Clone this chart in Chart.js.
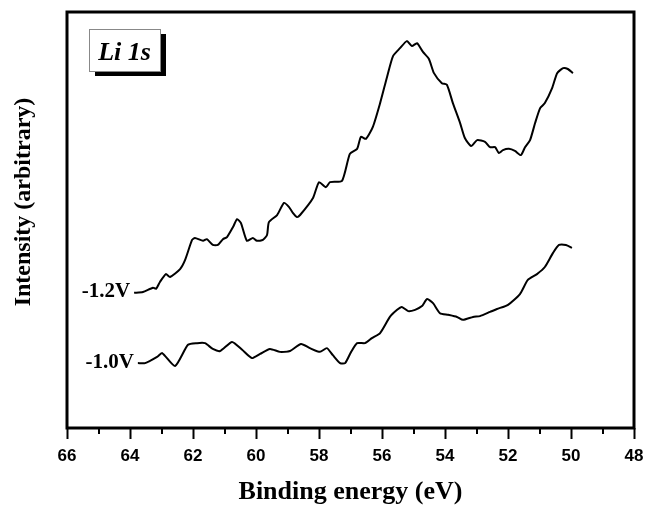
<!DOCTYPE html>
<html>
<head>
<meta charset="utf-8">
<script src="https://cdn.jsdelivr.net/npm/chart.js@4"></script>
<style>
  html, body { margin: 0; padding: 0; background: #fff; }
  #box { width: 645px; height: 505px; }
</style>
</head>
<body>
<div id="box"><canvas id="xps-chart"></canvas></div>
<script>
// data (binding energy in eV, intensity in arbitrary units)
let upper_energy = [63.87, 63.59, 63.27, 63.17, 63.05, 62.86, 62.73, 62.41, 62.25, 62.03, 61.94, 61.68, 61.56, 61.37, 61.21, 61.05, 60.92, 60.73, 60.60, 60.48, 60.29, 60.10, 59.97, 59.78, 59.65, 59.59, 59.33, 59.11, 58.95, 58.83, 58.70, 58.60, 58.19, 58.00, 57.78, 57.65, 57.27, 57.02, 56.79, 56.67, 56.51, 56.29, 56.06, 55.84, 55.65, 55.43, 55.21, 55.05, 54.89, 54.70, 54.51, 54.35, 54.10, 53.94, 53.75, 53.52, 53.37, 53.17, 52.98, 52.73, 52.57, 52.41, 52.29, 52.16, 51.97, 51.78, 51.59, 51.46, 51.30, 51.14, 50.98, 50.83, 50.60, 50.44, 50.25, 50.10, 49.94];
let upper_intensity = [32.5, 32.7, 33.7, 33.5, 35.1, 37.0, 36.3, 38.2, 40.4, 45.2, 45.7, 45.0, 45.4, 44.0, 44.0, 45.4, 45.9, 48.3, 50.2, 49.3, 45.0, 45.7, 45.0, 45.2, 46.4, 49.5, 51.2, 54.1, 53.1, 51.7, 50.7, 51.2, 55.3, 59.1, 57.9, 59.1, 59.4, 65.9, 67.1, 70.0, 69.5, 72.4, 78.1, 84.4, 89.4, 91.3, 93.0, 91.8, 92.5, 90.4, 88.7, 85.3, 82.9, 82.5, 78.1, 73.3, 69.7, 67.8, 69.2, 68.8, 67.5, 67.5, 66.1, 66.8, 67.1, 66.6, 65.6, 67.5, 69.2, 73.3, 76.9, 78.1, 81.7, 85.3, 86.5, 86.3, 85.3];

let lower_energy = [63.75, 63.52, 63.14, 62.98, 62.57, 62.16, 61.87, 61.62, 61.37, 61.14, 60.76, 60.44, 60.13, 59.87, 59.56, 59.24, 58.92, 58.57, 58.29, 57.97, 57.75, 57.56, 57.33, 57.17, 56.98, 56.79, 56.54, 56.32, 56.06, 55.75, 55.52, 55.37, 55.17, 54.95, 54.73, 54.57, 54.38, 54.16, 53.90, 53.62, 53.43, 53.11, 52.89, 52.57, 52.35, 52.00, 51.62, 51.37, 51.08, 50.83, 50.57, 50.38, 50.16, 49.97];
let lower_intensity = [15.6, 15.6, 17.1, 18.0, 14.9, 20.0, 20.4, 20.4, 19.0, 18.5, 20.7, 18.8, 16.8, 17.8, 19.0, 18.3, 18.5, 20.2, 19.2, 18.3, 19.2, 17.5, 15.6, 15.6, 18.3, 20.4, 20.4, 21.6, 22.8, 26.7, 28.4, 29.1, 28.1, 28.4, 29.3, 31.0, 30.0, 27.6, 27.2, 26.7, 26.0, 26.7, 26.9, 27.9, 28.6, 29.6, 32.2, 35.6, 37.0, 38.7, 42.1, 44.0, 44.0, 43.3];

let series_labels = ["-1.2V", "-1.0V"];
let panel_label = "Li 1s";

let chart;

function to_points(xs, ys) {
  return xs.map((x, i) => ({ x: x, y: ys[i] }));
}

// frame, minor ticks and the text annotations
const decorations = {
  id: 'decorations',
  afterDraw(c) {
    const ctx = c.ctx;
    const area = c.chartArea;
    const xs = c.scales.x;
    ctx.save();

    // minor ticks every 1 eV
    ctx.strokeStyle = '#000';
    ctx.lineWidth = 2;
    for (let v = Math.ceil(xs.min); v <= xs.max; v++) {
      if (v % 2 === 0) continue;
      const px = Math.round(xs.getPixelForValue(v));
      ctx.beginPath();
      ctx.moveTo(px, area.bottom);
      ctx.lineTo(px, area.bottom + 6);
      ctx.stroke();
    }

    // plot frame
    ctx.lineWidth = 3;
    ctx.strokeRect(area.left, area.top, area.right - area.left, area.bottom - area.top);

    // series labels next to the start of each curve
    ctx.fillStyle = '#000';
    ctx.font = 'bold 21px "Liberation Serif"';
    ctx.textAlign = 'right';
    ctx.textBaseline = 'middle';
    c.data.datasets.forEach((ds, i) => {
      const first = c.getDatasetMeta(i).data[0];
      ctx.fillText(series_labels[i], first.x - 4, first.y - 1);
    });

    // "Li 1s" box with shadow
    const bx = area.left + 22, by = area.top + 17, bw = 71, bh = 42;
    ctx.fillStyle = '#000';
    ctx.fillRect(bx + 6, by + 5, bw, bh);
    ctx.fillStyle = '#fff';
    ctx.fillRect(bx, by, bw, bh);
    ctx.lineWidth = 1;
    ctx.strokeStyle = '#888';
    ctx.strokeRect(bx + 0.5, by + 0.5, bw, bh);
    ctx.fillStyle = '#000';
    ctx.font = 'italic bold 26px "Liberation Serif"';
    ctx.textAlign = 'center';
    ctx.textBaseline = 'alphabetic';
    ctx.fillText(panel_label, bx + bw / 2, by + 31);

    ctx.restore();
  }
};

function draw_chart() {
  const ctx = document.getElementById('xps-chart').getContext('2d');

  chart = new Chart(ctx, {
    type: 'line',
    data: {
      datasets: [
        {
          label: series_labels[0],
          data: to_points(upper_energy, upper_intensity),
          borderColor: '#000',
          borderWidth: 2,
          pointRadius: 0,
          tension: 0.2,
          fill: false
        },
        {
          label: series_labels[1],
          data: to_points(lower_energy, lower_intensity),
          borderColor: '#000',
          borderWidth: 2,
          pointRadius: 0,
          tension: 0.2,
          fill: false
        }
      ]
    },
    options: {
      responsive: true,
      maintainAspectRatio: false,
      animation: false,
      layout: { padding: { left: 0, right: 11, top: 12, bottom: 0 } },
      plugins: {
        legend: { display: false },
        tooltip: { enabled: false }
      },
      scales: {
        x: {
          type: 'linear',
          min: 48,
          max: 66,
          reverse: true,
          border: { display: false },
          grid: {
            drawOnChartArea: false,
            drawTicks: true,
            tickLength: 11,
            tickColor: '#000',
            tickWidth: 2
          },
          ticks: {
            stepSize: 2,
            color: '#000',
            padding: 7,
            maxRotation: 0,
            font: { family: '"Liberation Sans"', size: 17, weight: 'bold' }
          },
          title: {
            display: true,
            text: 'Binding energy (eV)',
            color: '#000',
            padding: { top: 0, bottom: 0 },
            font: { family: '"Liberation Serif"', size: 26, weight: 'bold', lineHeight: 1 }
          },
          afterFit: (scale) => {
            scale.height = 77;
            scale.paddingLeft = 0;
            scale.paddingRight = 0;
          }
        },
        y: {
          min: 0,
          max: 100,
          border: { display: false },
          grid: { display: false },
          ticks: { display: false },
          title: {
            display: true,
            text: '      Intensity (arbitrary)',
            color: '#000',
            padding: { top: 12, bottom: 0 },
            font: { family: '"Liberation Serif"', size: 24, weight: 'bold', lineHeight: 1 }
          },
          afterFit: (scale) => { scale.width = 67; }
        }
      }
    },
    plugins: [decorations]
  });
}

draw_chart();
</script>
</body>
</html>
